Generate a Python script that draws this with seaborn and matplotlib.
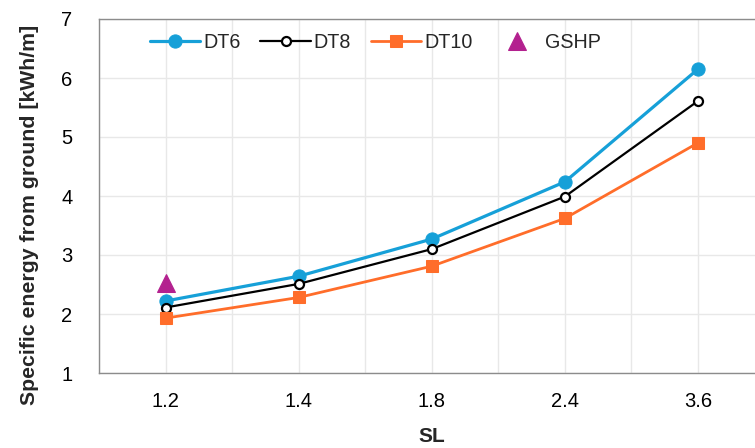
import matplotlib
matplotlib.use("Agg")
import matplotlib.pyplot as plt
import seaborn as sns
import pandas as pd
from matplotlib.ticker import MultipleLocator

# Shank length categories and specific energy values [kWh/m]
sl_labels = ["1.2", "1.4", "1.8", "2.4", "3.6"]
dt6 = [2.22, 2.64, 3.27, 4.24, 6.15]
dt8 = [2.11, 2.51, 3.10, 3.99, 5.61]
dt10 = [1.93, 2.28, 2.81, 3.62, 4.90]
gshp_sl = ["1.2"]
gshp = [2.53]

sns.set_theme(style="white")
plt.rcParams["font.family"] = ["Liberation Sans", "DejaVu Sans"]

pos = {lab: i for i, lab in enumerate(sl_labels)}
df = pd.DataFrame({
    "x": [pos[s] for s in sl_labels] * 3,
    "y": dt6 + dt8 + dt10,
    "series": ["DT6"] * 5 + ["DT8"] * 5 + ["DT10"] * 5,
})
df_g = pd.DataFrame({"x": [pos[s] for s in gshp_sl], "y": gshp})

fig = plt.figure(figsize=(7.55, 4.48), dpi=100)
ax = fig.add_axes([99 / 755, 75 / 448, 665.5 / 755, 354 / 448])

styles = {
    "DT6": dict(color="#16a0d8", marker="o", markersize=9.5, linewidth=2.3,
                markerfacecolor="#16a0d8", markeredgecolor="#16a0d8"),
    "DT8": dict(color="black", marker="o", markersize=6.5, linewidth=1.6,
                markerfacecolor="white", markeredgecolor="black", markeredgewidth=1.6),
    "DT10": dict(color="#ff6d2a", marker="s", markersize=8.5, linewidth=2.0,
                 markerfacecolor="#ff6d2a", markeredgecolor="#ff6d2a"),
}
for name, kw in styles.items():
    sub = df[df["series"] == name]
    sns.lineplot(data=sub, x="x", y="y", ax=ax, label=name, **kw)

sns.lineplot(data=df_g, x="x", y="y", ax=ax, label="GSHP", color="#b3218f",
             marker="^", markersize=13, linestyle="none",
             markerfacecolor="#b3218f", markeredgecolor="#b3218f")

ax.set_xlim(-0.5, 4.5)
ax.set_ylim(1, 7)
ax.set_xticks(range(len(sl_labels)))
ax.set_xticklabels(sl_labels)
ax.xaxis.set_minor_locator(MultipleLocator(0.5))
ax.yaxis.set_major_locator(MultipleLocator(1))

ax.grid(True, which="both", axis="x", color="#e8e8e8", linewidth=1.0)
ax.grid(True, which="major", axis="y", color="#e8e8e8", linewidth=1.0)
ax.set_axisbelow(True)

for side in ["left", "bottom", "top"]:
    ax.spines[side].set_visible(True)
    ax.spines[side].set_color("#8c8c8c")
    ax.spines[side].set_linewidth(1.0)
ax.spines["right"].set_visible(False)

ax.tick_params(axis="both", which="major", direction="in", length=4,
               color="#8c8c8c", labelsize=14.5, labelcolor="black")
ax.tick_params(axis="x", which="major", pad=14)
ax.tick_params(axis="x", which="minor", length=0)
ax.tick_params(axis="y", which="major", pad=19)

ax.set_xlabel("SL", fontsize=15, fontweight="bold", labelpad=11)
ax.set_ylabel("Specific energy from ground [kWh/m]", fontsize=15.3,
              fontweight="bold")
ax.yaxis.set_label_coords(-0.090, 0.446)

ax.legend(loc="upper left", bbox_to_anchor=(0.050, 1.012), ncol=4,
          frameon=False, fontsize=14.2, handlelength=2.55, handletextpad=0.15,
          columnspacing=1.0)

fig.savefig("out.png", dpi=100)
